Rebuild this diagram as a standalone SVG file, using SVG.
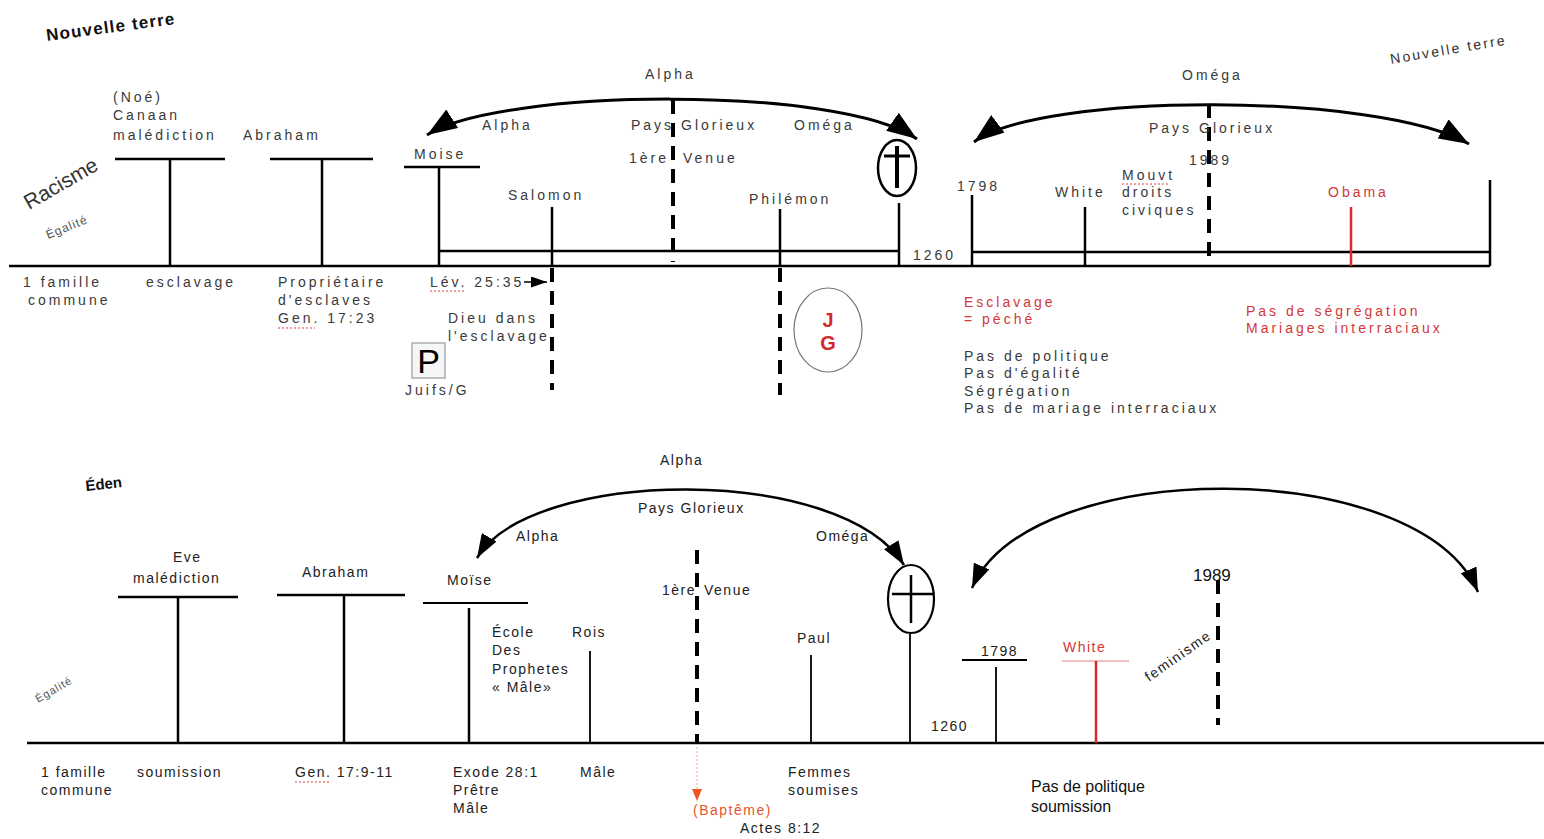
<svg xmlns="http://www.w3.org/2000/svg" width="1544" height="839" viewBox="0 0 1544 839">
<style>
text{font-family:"Liberation Sans",Arial,sans-serif}
.t{font-size:14px;fill:#3a3a3a;letter-spacing:3px}
.b{font-size:14px;fill:#222;letter-spacing:1.5px}
.r{fill:#d2383a}
.ln{stroke:#000;stroke-width:2.5;fill:none}
.thin{stroke:#000;stroke-width:1.8;fill:none}
.dash{stroke:#000;stroke-width:4;fill:none;stroke-dasharray:14 9}
.arcT{stroke:#000;stroke-width:3;fill:none;marker-start:url(#ahT);marker-end:url(#ahT)}
.arcB{stroke:#000;stroke-width:2.5;fill:none;marker-start:url(#ahB);marker-end:url(#ahB)}
.sq{stroke:#e04040;stroke-width:1;fill:none;stroke-dasharray:2 2}
</style>
<defs>
<marker id="ahT" viewBox="0 0 10 10" refX="10" refY="5" markerWidth="30" markerHeight="22" markerUnits="userSpaceOnUse" orient="auto-start-reverse" preserveAspectRatio="none"><path d="M0,0 L10,5 L0,10 z" fill="#000"/></marker>
<marker id="ahB" viewBox="0 0 10 10" refX="10" refY="5" markerWidth="24" markerHeight="17" markerUnits="userSpaceOnUse" orient="auto-start-reverse" preserveAspectRatio="none"><path d="M0,0 L10,5 L0,10 z" fill="#000"/></marker>
<marker id="ahS" viewBox="0 0 10 10" refX="10" refY="5" markerWidth="16" markerHeight="11" markerUnits="userSpaceOnUse" orient="auto" preserveAspectRatio="none"><path d="M0,0 L10,5 L0,10 z" fill="#000"/></marker>
</defs>
<rect width="1544" height="839" fill="#fff"/>

<!-- ===== TOP SECTION ===== -->
<g id="top-labels">
<text x="47" y="41" font-size="17" font-weight="bold" fill="#111" letter-spacing="1.2" transform="rotate(-7.5 47 41)">Nouvelle terre</text>
<text x="29" y="210" font-size="21" fill="#333" transform="rotate(-30 29 210)">Racisme</text>
<text x="48" y="239" font-size="12" fill="#555" letter-spacing="1" transform="rotate(-22 48 239)">Égalité</text>
<text x="1391" y="64" font-size="14" fill="#333" letter-spacing="2.2" transform="rotate(-9.5 1391 64)">Nouvelle terre</text>
</g>

<g id="connectors">
<!-- top timeline -->
<path class="ln" d="M9 266 H1490"/>
<path class="ln" d="M439 251 H899"/>
<path class="ln" d="M972 252 H1490"/>
<path class="dash" d="M673 100 V262"/>
<path class="dash" d="M552 268 V390"/>
<path class="dash" d="M780 268 V395"/>
<path class="dash" d="M1209 104 V264"/>
<path class="arcT" d="M427 135 C500 88 840 85 917 139"/>
<path class="arcT" d="M974 142 C1040 92 1380 92 1469 144"/>
<path d="M524 282 H547" stroke="#000" stroke-width="1.5" marker-end="url(#ahS)"/>
<!-- bottom timeline -->
<path class="ln" d="M27 743 H1544"/>
<path class="dash" d="M697 550 V743"/>
<path class="dash" d="M1218 580 V725"/>
<path class="arcB" d="M477 558 C530 468 840 463 904 565"/>
<path class="arcB" d="M972 588 C1030 455 1420 455 1478 592"/>
<path d="M697 747 V790" stroke="#f2a890" stroke-width="1" stroke-dasharray="2 2"/>
<path d="M692 789 L702 789 L697 801 z" fill="#ee5522"/>
<!-- spell-check squiggles -->
<path class="sq" d="M430 291 H466"/>
<path class="sq" d="M278 328 H315"/>
<path class="sq" d="M1122 184 H1170"/>
<path class="sq" d="M295 782 H330"/>
</g>

<g id="noe">
<path class="ln" d="M115 159 H225 M170 159 V266"/>
<text class="t" x="113" y="102">(Noé)</text>
<text class="t" x="113" y="120">Canaan</text>
<text class="t" x="113" y="140">malédiction</text>
<text class="t" x="23" y="287">1 famille</text>
<text class="t" x="28" y="305">commune</text>
<text class="t" x="146" y="287">esclavage</text>
</g>

<g id="abraham-top">
<path class="ln" d="M270 159 H373 M322 159 V266"/>
<text class="t" x="243" y="140">Abraham</text>
<text class="t" x="278" y="287">Propriétaire</text>
<text class="t" x="278" y="305">d'esclaves</text>
<text class="t" x="278" y="323">Gen. 17:23</text>
</g>

<g id="moise-top">
<path class="ln" d="M404 167 H480 M439 167 V266"/>
<text class="t" x="414" y="159">Moise</text>
<text class="t" x="430" y="287">Lév. 25:35</text>
<text class="t" x="448" y="323">Dieu dans</text>
<text class="t" x="448" y="341">l'esclavage</text>
</g>

<g id="p-box">
<rect x="412" y="343" width="33" height="35" fill="#f6f6f6" stroke="#999" stroke-width="1.2"/>
<text x="428.5" y="373" font-size="34" fill="#000" text-anchor="middle">P</text>
<text class="t" x="405" y="395" letter-spacing="2">Juifs/G</text>
</g>

<g id="alpha-top">
<text class="t" x="645" y="79">Alpha</text>
<text class="t" x="482" y="130">Alpha</text>
<text class="t" x="631" y="130">Pays Glorieux</text>
<text class="t" x="794" y="130">Oméga</text>
<text class="t" x="629" y="163">1ère</text>
<text class="t" x="683" y="163">Venue</text>
</g>

<g id="salomon">
<path class="ln" d="M552 207 V266"/>
<text class="t" x="508" y="200">Salomon</text>
</g>

<g id="philemon">
<path class="ln" d="M780 209 V266"/>
<text class="t" x="749" y="204">Philémon</text>
</g>

<g id="jg">
<ellipse cx="828" cy="330" rx="34" ry="42" fill="none" stroke="#777" stroke-width="1.2"/>
<text x="828" y="327" font-size="20" font-weight="bold" fill="#d2282a" text-anchor="middle">J</text>
<text x="828" y="350" font-size="20" font-weight="bold" fill="#d2282a" text-anchor="middle">G</text>
</g>

<g id="cross-top">
<ellipse cx="897" cy="168" rx="19" ry="28" fill="none" stroke="#000" stroke-width="2.5"/>
<path d="M897 146 V188" stroke="#000" stroke-width="4"/>
<path d="M884 156 H910" stroke="#000" stroke-width="3"/>
<path class="ln" d="M899 203 V266"/>
<text class="t" x="913" y="260" font-size="13" letter-spacing="2.5">1260</text>
</g>

<g id="omega-top">
<text class="t" x="1182" y="80">Oméga</text>
<text class="t" x="1149" y="133">Pays Glorieux</text>
<text class="t" x="1189" y="165">1989</text>
</g>

<g id="y1798-top">
<path class="ln" d="M972 195 V266"/>
<text class="t" x="957" y="191">1798</text>
</g>

<g id="white-top">
<path class="ln" d="M1085 207 V266"/>
<text class="t" x="1055" y="197" fill="#222">White</text>
</g>

<g id="mouvt">
<text class="t" x="1122" y="180">Mouvt</text>
<text class="t" x="1122" y="197">droits</text>
<text class="t" x="1122" y="215">civiques</text>
</g>

<g id="obama">
<path d="M1351 207 V266" stroke="#e02828" stroke-width="2.5"/>
<text class="t r" x="1328" y="197">Obama</text>
</g>

<g id="end-top">
<path class="ln" d="M1490 180 V266"/>
</g>

<g id="notes-top">
<text class="t r" x="964" y="307">Esclavage</text>
<text class="t r" x="964" y="324">= péché</text>
<text class="t" x="964" y="361">Pas de politique</text>
<text class="t" x="964" y="378">Pas d'égalité</text>
<text class="t" x="964" y="396">Ségrégation</text>
<text class="t" x="964" y="413">Pas de mariage interraciaux</text>
<text class="t r" x="1246" y="316">Pas de ségrégation</text>
<text class="t r" x="1246" y="333">Mariages interraciaux</text>
</g>

<!-- ===== BOTTOM SECTION ===== -->
<g id="bottom-labels">
<text x="86" y="491" font-size="15" font-weight="bold" fill="#111" transform="rotate(-6 86 491)">Éden</text>
<text x="38" y="703" font-size="11" fill="#555" letter-spacing="1" transform="rotate(-30 38 703)">Égalité</text>
</g>

<g id="eve">
<path class="ln" d="M118 597 H238 M178 597 V743"/>
<text class="b" x="173" y="562">Eve</text>
<text class="b" x="133" y="583">malédiction</text>
<text class="b" x="41" y="777">1 famille</text>
<text class="b" x="41" y="795">commune</text>
<text class="b" x="137" y="777">soumission</text>
</g>

<g id="abraham-bottom">
<path class="ln" d="M277 595 H405 M344 595 V743"/>
<text class="b" x="302" y="577">Abraham</text>
<text class="b" x="295" y="777">Gen. 17:9-11</text>
</g>

<g id="moise-bottom">
<path class="thin" d="M423 603 H528"/>
<path class="ln" d="M469 608 V743"/>
<text class="b" x="447" y="585">Moïse</text>
<text class="b" x="492" y="637">École</text>
<text class="b" x="492" y="655">Des</text>
<text class="b" x="492" y="674">Prophetes</text>
<text class="b" x="492" y="692">« Mâle»</text>
<text class="b" x="453" y="777">Exode 28:1</text>
<text class="b" x="453" y="795">Prêtre</text>
<text class="b" x="453" y="813">Mâle</text>
</g>

<g id="rois">
<path class="thin" d="M590 651 V743"/>
<text class="b" x="572" y="637">Rois</text>
<text class="b" x="580" y="777">Mâle</text>
</g>

<g id="alpha-bottom">
<text class="b" x="660" y="465">Alpha</text>
<text class="b" x="638" y="513">Pays Glorieux</text>
<text class="b" x="516" y="541">Alpha</text>
<text class="b" x="816" y="541">Oméga</text>
<text class="b" x="662" y="595">1ère</text>
<text class="b" x="704" y="595">Venue</text>
<text class="b" x="693" y="815" style="fill:#e8552c">(Baptême)</text>
<text class="b" x="740" y="833">Actes 8:12</text>
</g>

<g id="paul">
<path class="thin" d="M811 655 V743"/>
<text class="b" x="797" y="643">Paul</text>
<text class="b" x="788" y="777">Femmes</text>
<text class="b" x="788" y="795">soumises</text>
</g>

<g id="cross-bottom">
<ellipse cx="911" cy="599" rx="23" ry="34" fill="none" stroke="#000" stroke-width="2.2"/>
<path d="M911 575 V623 M892 594 H934" stroke="#000" stroke-width="2.5"/>
<path class="thin" d="M910 634 V743"/>
<text class="b" x="931" y="731" font-size="13" letter-spacing="1">1260</text>
</g>

<g id="y1798-bottom">
<path class="thin" d="M962 660 H1027 M996 667 V743"/>
<text class="b" x="981" y="656" font-size="13" letter-spacing="1">1798</text>
</g>

<g id="white-bottom">
<path d="M1062 661 H1129" stroke="#e88080" stroke-width="1.2"/>
<path d="M1096 661 V743" stroke="#d82828" stroke-width="2.5"/>
<text class="b r" x="1063" y="652">White</text>
</g>

<g id="y1989-bottom">
<text x="1193" y="581" font-size="17" fill="#111">1989</text>
<text class="b" x="1149" y="682" fill="#333" transform="rotate(-35 1149 682)">feminisme</text>
</g>

<g id="notes-bottom">
<text x="1031" y="792" font-size="16" fill="#111">Pas de politique</text>
<text x="1031" y="812" font-size="16" fill="#111">soumission</text>
</g>
</svg>
